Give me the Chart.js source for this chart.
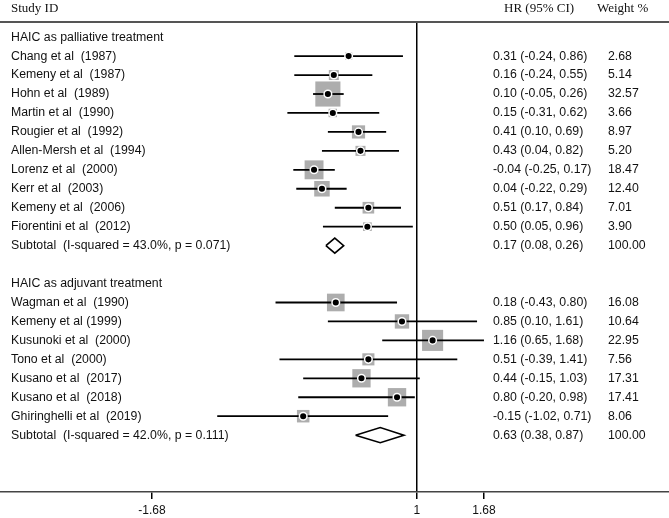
<!DOCTYPE html>
<html>
<head>
    <title>Forest plot - HAIC</title>
    <script src="https://cdn.jsdelivr.net/npm/chart.js@4.4.0/dist/chart.umd.min.js"></script>
    <style>
        body {
            margin: 0;
            background: #fff;
        }
        .chart-box {
            width: 669px;
            height: 518px;
            position: relative;
        }
    </style>
</head>
<body>
    <div class="chart-box">
        <canvas id="forest"></canvas>
    </div>

    <script>
        // study rows (row index counts from the first group header = 0)
        const studyNames = [
            'Chang et al  (1987)', 'Kemeny et al  (1987)', 'Hohn et al  (1989)', 'Martin et al  (1990)',
            'Rougier et al  (1992)', 'Allen-Mersh et al  (1994)', 'Lorenz et al  (2000)', 'Kerr et al  (2003)',
            'Kemeny et al  (2006)', 'Fiorentini et al  (2012)',
            'Wagman et al  (1990)', 'Kemeny et al (1999)', 'Kusunoki et al  (2000)', 'Tono et al  (2000)',
            'Kusano et al  (2017)', 'Kusano et al  (2018)', 'Ghiringhelli et al  (2019)'
        ];
        const studyRows = [1, 2, 3, 4, 5, 6, 7, 8, 9, 10, 14, 15, 16, 17, 18, 19, 20];
        const hrValues = [0.31, 0.16, 0.10, 0.15, 0.41, 0.43, -0.04, 0.04, 0.51, 0.50,
                          0.18, 0.85, 1.16, 0.51, 0.44, 0.80, -0.15];
        const ciLow = [-0.24, -0.24, -0.05, -0.31, 0.10, 0.04, -0.25, -0.22, 0.17, 0.05,
                       -0.43, 0.10, 0.65, -0.39, -0.15, -0.20, -1.02];
        const ciHigh = [0.86, 0.55, 0.26, 0.62, 0.69, 0.82, 0.17, 0.29, 0.84, 0.96,
                        0.80, 1.61, 1.68, 1.41, 1.03, 0.98, 0.71];
        const weights = [2.68, 5.14, 32.57, 3.66, 8.97, 5.20, 18.47, 12.40, 7.01, 3.90,
                         16.08, 10.64, 22.95, 7.56, 17.31, 17.41, 8.06];

        // group headers and subtotals
        const groupNames = ['HAIC as palliative treatment', 'HAIC as adjuvant treatment'];
        const groupRows = [0, 13];
        const subNames = ['Subtotal  (I-squared = 43.0%, p = 0.071)', 'Subtotal  (I-squared = 42.0%, p = 0.111)'];
        const subRows = [11, 21];
        const subHr = [0.17, 0.63];
        const subLow = [0.08, 0.38];
        const subHigh = [0.26, 0.87];
        const subWeights = [100.00, 100.00];

        const tickValues = [-1.68, 1, 1.68];
        const headers = ['Study ID', 'HR (95% CI)', 'Weight %'];

        function fmt(v) { return v.toFixed(2); }

        const datasets = [];

        // weight boxes
        datasets.push({
            data: studyRows.map((r, i) => ({ x: hrValues[i], y: r })),
            pointStyle: 'rect',
            pointRadius: ctx => 4.4 * Math.sqrt(weights[ctx.dataIndex]) / 1.414,
            backgroundColor: '#adadad',
            borderWidth: 0,
            order: 3
        });

        // confidence interval lines
        studyRows.forEach((r, i) => {
            datasets.push({
                data: [{ x: ciLow[i], y: r }, { x: ciHigh[i], y: r }],
                showLine: true,
                borderColor: '#000',
                borderWidth: 1.8,
                pointRadius: 0,
                order: 2
            });
        });

        // subtotal diamonds
        subRows.forEach((r, i) => {
            const h = 0.4;
            datasets.push({
                data: [
                    { x: subLow[i], y: r }, { x: subHr[i], y: r - h },
                    { x: subHigh[i], y: r }, { x: subHr[i], y: r + h }, { x: subLow[i], y: r }
                ],
                showLine: true,
                borderColor: '#000',
                borderWidth: 1.6,
                pointRadius: 0,
                fill: false,
                order: 2
            });
        });

        // point estimates
        datasets.push({
            data: studyRows.map((r, i) => ({ x: hrValues[i], y: r })),
            pointRadius: 3.8,
            backgroundColor: '#000',
            borderColor: '#fff',
            borderWidth: 1.5,
            order: 1
        });

        const textPlugin = {
            id: 'forestText',
            afterDraw(chart) {
                const ctx = chart.ctx;
                const y = chart.scales.y;
                const area = chart.chartArea;
                ctx.save();

                // header rule
                ctx.strokeStyle = '#555';
                ctx.lineWidth = 2;
                ctx.beginPath();
                ctx.moveTo(0, area.top);
                ctx.lineTo(chart.width, area.top);
                ctx.stroke();

                ctx.fillStyle = '#111';
                ctx.textBaseline = 'middle';
                ctx.font = '13px "Liberation Serif", "Times New Roman", serif';
                ctx.fillText(headers[0], 11, 9);
                ctx.fillText(headers[1], 504, 9);
                ctx.fillText(headers[2], 597, 9);

                ctx.font = '12.3px "Liberation Sans", Arial, sans-serif';
                groupNames.forEach((n, i) => {
                    ctx.fillText(n, 11, y.getPixelForValue(groupRows[i]));
                });
                studyNames.forEach((n, i) => {
                    const py = y.getPixelForValue(studyRows[i]);
                    ctx.fillText(n, 11, py);
                    ctx.fillText(fmt(hrValues[i]) + ' (' + fmt(ciLow[i]) + ', ' + fmt(ciHigh[i]) + ')', 493, py);
                    ctx.fillText(fmt(weights[i]), 608, py);
                });
                subNames.forEach((n, i) => {
                    const py = y.getPixelForValue(subRows[i]);
                    ctx.fillText(n, 11, py);
                    ctx.fillText(fmt(subHr[i]) + ' (' + fmt(subLow[i]) + ', ' + fmt(subHigh[i]) + ')', 493, py);
                    ctx.fillText(fmt(subWeights[i]), 608, py);
                });
                ctx.restore();
            }
        };

        new Chart(document.getElementById('forest'), {
            type: 'scatter',
            data: { datasets: datasets },
            plugins: [textPlugin],
            options: {
                responsive: true,
                maintainAspectRatio: false,
                animation: false,
                clip: false,
                layout: { autoPadding: false, padding: { top: 22, left: 0, right: 0, bottom: 0 } },
                plugins: {
                    legend: { display: false },
                    tooltip: { enabled: false }
                },
                scales: {
                    x: {
                        type: 'linear',
                        min: -3.219,
                        max: 3.553,
                        afterBuildTicks: scale => {
                            scale.ticks = tickValues.map(v => ({ value: v }));
                        },
                        afterFit: scale => {
                            scale.height = 26;
                            scale.paddingLeft = 0;
                            scale.paddingRight = 0;
                        },
                        ticks: {
                            color: '#111',
                            font: { family: '"Liberation Sans", Arial, sans-serif', size: 12 },
                            padding: 4,
                            maxRotation: 0,
                            autoSkip: false,
                            callback: v => String(v)
                        },
                        grid: {
                            color: c => (c.tick && c.tick.value === 1) ? '#000' : 'rgba(0,0,0,0)',
                            lineWidth: 1.5,
                            tickColor: '#000',
                            tickLength: 7,
                            tickWidth: 1.5
                        },
                        border: { display: true, color: '#444', width: 1.6 }
                    },
                    y: {
                        type: 'linear',
                        display: false,
                        reverse: true,
                        min: -0.8,
                        max: 24
                    }
                }
            }
        });
    </script>
</body>
</html>
